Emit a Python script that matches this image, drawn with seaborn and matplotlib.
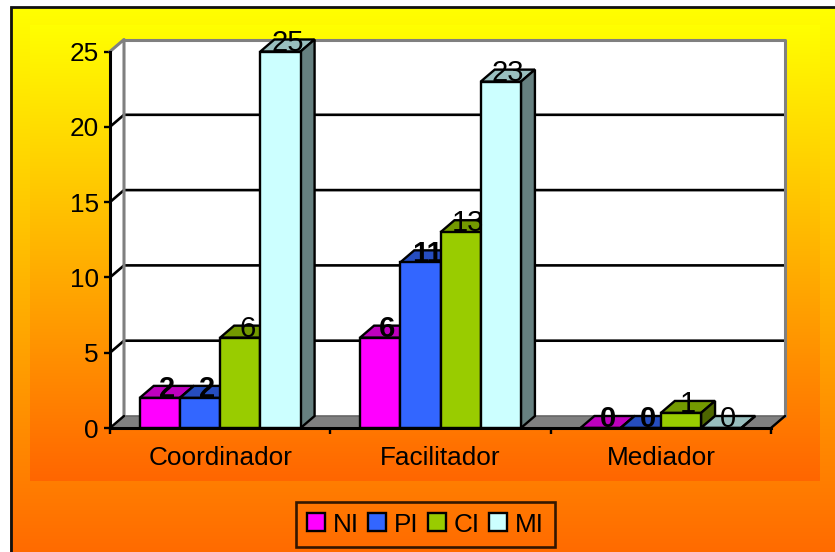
import numpy as np
import pandas as pd
import matplotlib
matplotlib.use("Agg")
import matplotlib.pyplot as plt
from matplotlib.colors import LinearSegmentedColormap, to_rgb
from matplotlib.patches import Polygon
import seaborn as sns

categories = ["Coordinador", "Facilitador", "Mediador"]
series_names = ["NI", "PI", "CI", "MI"]
ni_values = [2, 6, 0]
pi_values = [2, 11, 0]
ci_values = [6, 13, 1]
mi_values = [25, 23, 0]
series_colors = ["#FF00FF", "#3366FF", "#99CC00", "#CCFFFF"]
bold_labels = {"NI", "PI"}

W, H = 835, 552
AX_L, AX_R, AX_TOP, AX_BOT = 110, 771, 51.5, 428
DEPTH_PX_X, DEPTH_PX_Y = 14, 12

sns.set_theme(style="white")
plt.rcParams["font.family"] = ["Liberation Sans", "DejaVu Sans"]
plt.rcParams["text.color"] = "black"
plt.rcParams["axes.labelcolor"] = "black"
FS = 18.8
FS_LABEL = 21

fig = plt.figure(figsize=(W / 100, H / 100), dpi=100)

# background: pixel coordinate axes
bg = fig.add_axes([0, 0, 1, 1], zorder=0)
bg.set_xlim(0, W)
bg.set_ylim(H, 0)
bg.axis("off")
cmap = LinearSegmentedColormap.from_list("y2o", ["#FFFF00", "#FF6600"])
grad = np.linspace(0, 1, 256)[:, None]
bg.imshow(grad, cmap=cmap, extent=(10, W, 570, 7), aspect="auto", vmin=0, vmax=1)
bg.imshow(grad, cmap=cmap, extent=(30, 820, 481, 25), aspect="auto", vmin=0, vmax=1)
bg.set_xlim(0, W)
bg.set_ylim(H, 0)
bg.plot([10.7, 10.7, W], [H, 7.3, 7.3], color="#111111", lw=2.0, solid_joinstyle="miter")

ax = fig.add_axes([AX_L / W, 1 - AX_BOT / H, (AX_R - AX_L) / W, (AX_BOT - AX_TOP) / H], zorder=1)
ax.patch.set_alpha(0)

df = pd.DataFrame({
    "category": categories * 4,
    "series": sum([[s] * 3 for s in series_names], []),
    "value": ni_values + pi_values + ci_values + mi_values,
})
sns.barplot(data=df, x="category", y="value", hue="series", order=categories,
            hue_order=series_names, palette=series_colors, saturation=1,
            width=0.73, gap=0, edgecolor="black", linewidth=1.7, ax=ax)

ax.set_xlim(-0.5, 2.5)
ax.set_ylim(0, 25)
ax.set_xlabel("")
ax.set_ylabel("")
ax.set_yticks([0, 5, 10, 15, 20, 25])
ax.set_xticks([0, 1, 2])
ax.set_xticks([-0.5, 0.5, 1.5, 2.5], minor=True)
ax.tick_params(axis="y", which="major", left=True, length=4.5, width=1.7, color="black",
               labelsize=FS, labelcolor="black", pad=3.5)
ax.tick_params(axis="x", which="major", bottom=False, labelsize=FS, labelcolor="black", pad=7)
ax.tick_params(axis="x", which="minor", bottom=True, length=4.5, width=1.7, color="black")
for s in ["top", "right"]:
    ax.spines[s].set_visible(False)
for s in ["left", "bottom"]:
    ax.spines[s].set_visible(True)
    ax.spines[s].set_color("black")
    ax.spines[s].set_linewidth(2.2)
    ax.spines[s].set_zorder(30)

# depth in data units, from the axes scales
dx = DEPTH_PX_X * 3 / (AX_R - AX_L)
dy = DEPTH_PX_Y * 25 / (AX_BOT - AX_TOP)
x0, x1 = ax.get_xlim()
ymax = ax.get_ylim()[1]
GREY = "#808080"

ax.add_patch(Polygon([(x0, 0), (x0 + dx, dy), (x1 + dx, dy), (x1 + dx, ymax + dy),
                      (x0 + dx, ymax + dy), (x0, ymax)], closed=True, fc="white",
                     ec="none", clip_on=False, zorder=0.5))
ax.add_patch(Polygon([(x0, 0), (x0 + dx, dy), (x1 + dx, dy), (x1, 0)], closed=True,
                     fc=GREY, ec="#666666", lw=1.2, clip_on=False, zorder=0.6))
for t in ax.get_yticks():
    if 0 < t < ymax:
        ax.plot([x0, x0 + dx, x1 + dx], [t, t + dy, t + dy], color="black", lw=1.9,
                clip_on=False, zorder=0.8, solid_joinstyle="miter")
ax.plot([x0, x0 + dx, x0 + dx], [ymax, ymax + dy, dy], color=GREY, lw=2.2, clip_on=False, zorder=0.9)
ax.plot([x0 + dx, x1 + dx, x1 + dx], [ymax + dy, ymax + dy, dy], color=GREY, lw=2.2,
        clip_on=False, zorder=0.9)
ax.plot([x0, x0 + dx], [0, dy], color="black", lw=1.7, clip_on=False, zorder=0.9)
ax.plot([x1, x1 + dx], [0, dy], color="black", lw=1.7, clip_on=False, zorder=0.9)


def shade(col, f):
    return tuple(c * f for c in to_rgb(col))


order = 0
for cat_i in range(len(categories)):
    for s_i, cont in enumerate(ax.containers):
        bar = cont[cat_i]
        col = series_colors[s_i]
        x_l, w, h = bar.get_x(), bar.get_width(), bar.get_height()
        z = 2 + order * 0.1
        order += 1
        ax.add_patch(Polygon([(x_l, h), (x_l + dx, h + dy), (x_l + w + dx, h + dy), (x_l + w, h)],
                             closed=True, fc=shade(col, 0.75), ec="black", lw=1.7,
                             clip_on=False, zorder=z, joinstyle="miter"))
        ax.add_patch(Polygon([(x_l + w, 0), (x_l + w + dx, dy), (x_l + w + dx, h + dy), (x_l + w, h)],
                             closed=True, fc=shade(col, 0.5), ec="black", lw=1.7,
                             clip_on=False, zorder=z, joinstyle="miter"))
        bar.set_zorder(z + 0.01)
        bar.set_clip_on(False)
        ax.text(x_l + w / 2 + dx / 2, h + 0.05, f"{h:g}", ha="center", va="baseline", fontsize=FS_LABEL,
                color="black", fontweight="bold" if series_names[s_i] in bold_labels else "normal",
                zorder=20, clip_on=False)

handles, labels = ax.get_legend_handles_labels()
if ax.get_legend() is not None:
    ax.get_legend().remove()
leg = fig.legend(handles, labels, ncol=4, loc="center",
                 bbox_to_anchor=(425.5 / W, 1 - 524.5 / H), bbox_transform=fig.transFigure,
                 fontsize=FS, frameon=True, fancybox=False, facecolor="none", edgecolor="black",
                 labelcolor="black",
                 handlelength=0.68, handleheight=0.68, handletextpad=0.3, columnspacing=0.36,
                 borderpad=0.42, borderaxespad=0, labelspacing=0)
leg.get_frame().set_linewidth(1.9)
leg.set_zorder(40)

fig.savefig("out.png", dpi=100)
